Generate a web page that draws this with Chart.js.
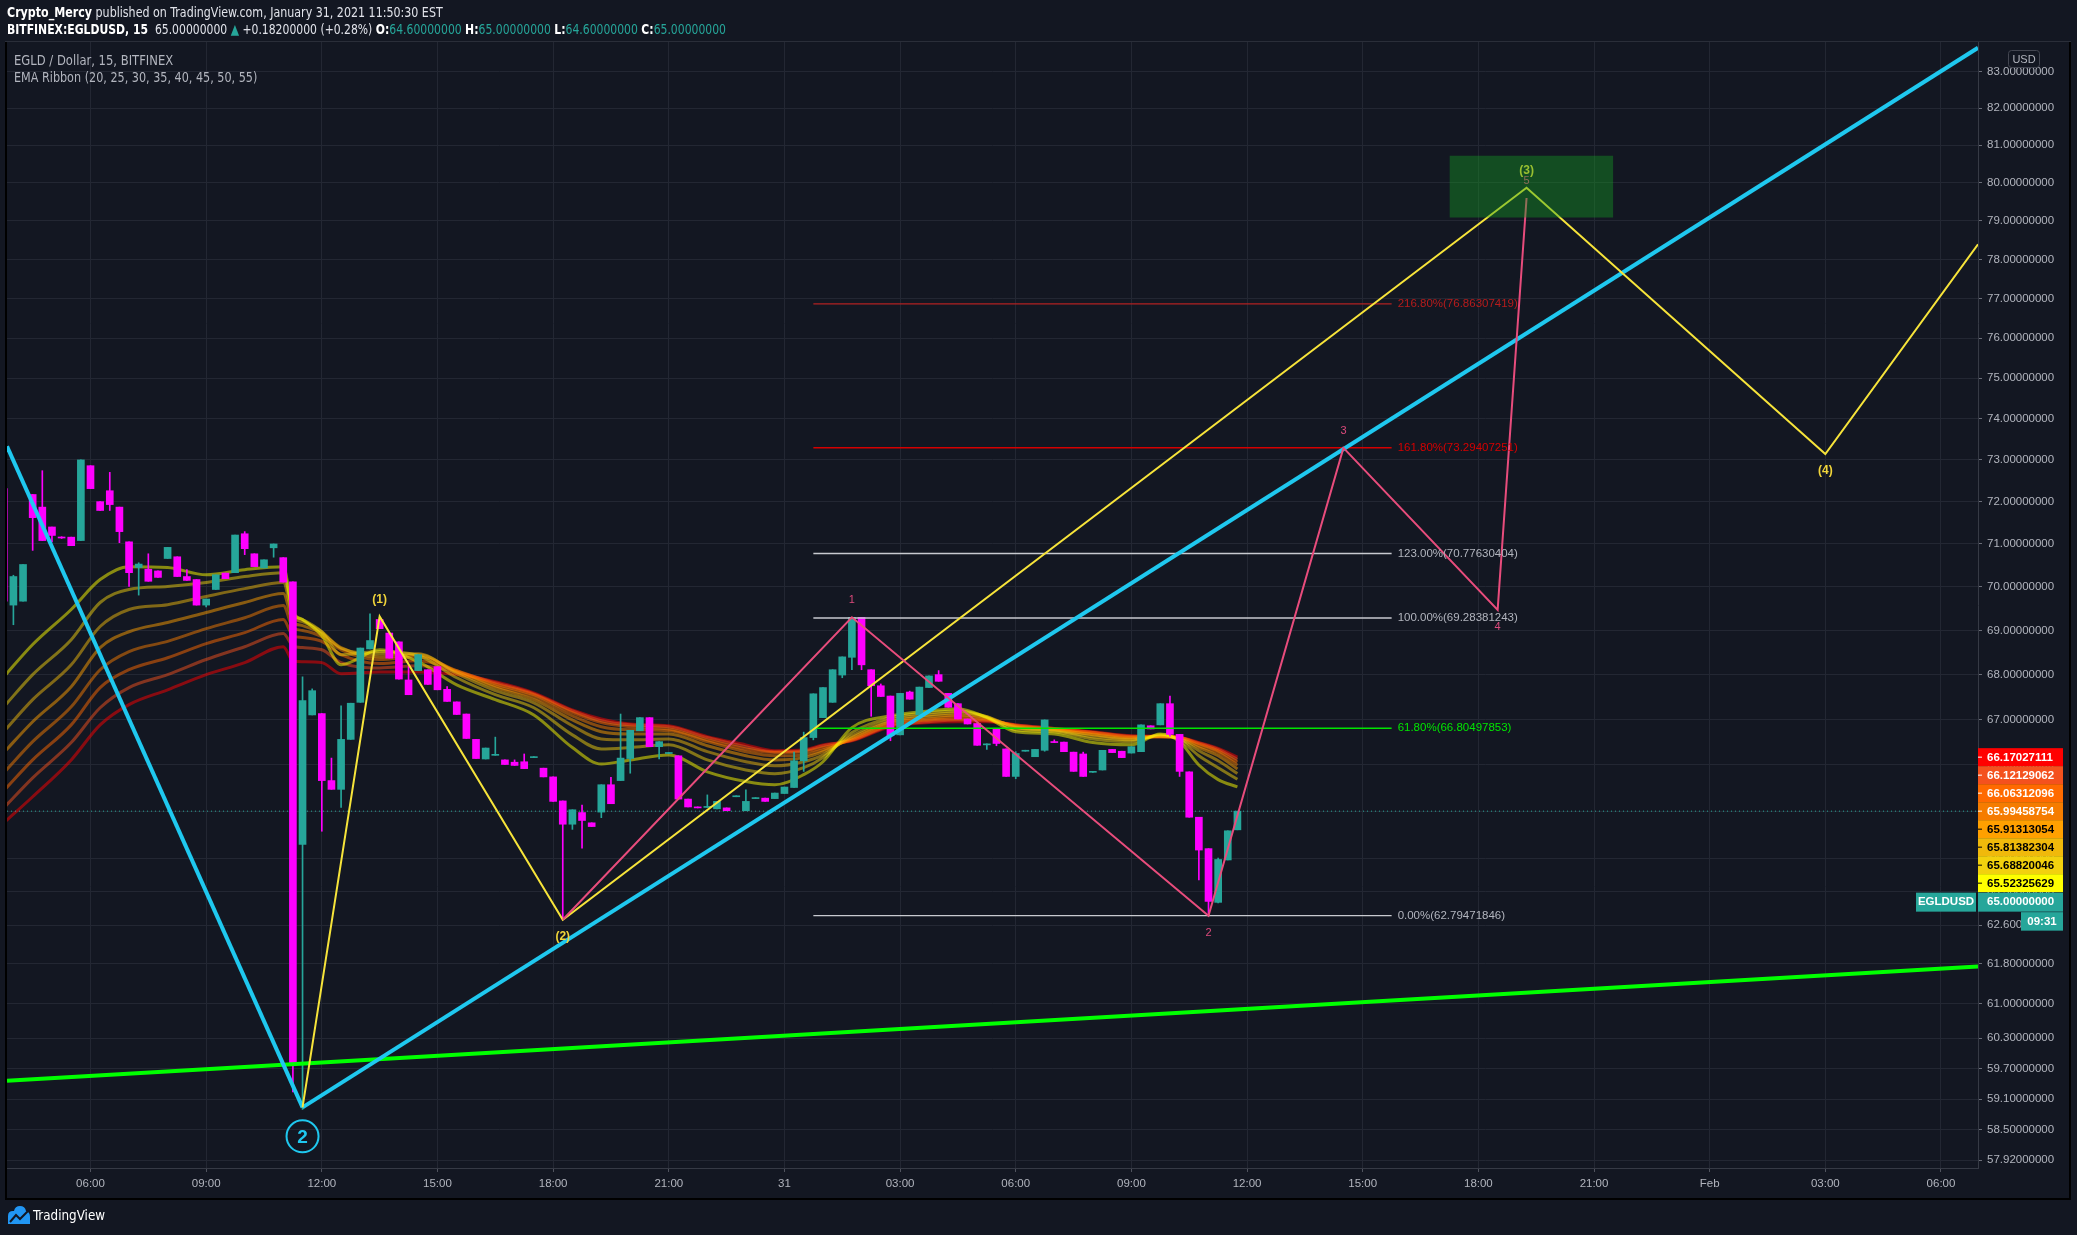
<!DOCTYPE html>
<html>
<head>
<meta charset="utf-8">
<title>EGLD / Dollar, 15, BITFINEX</title>
<script src="https://cdn.jsdelivr.net/npm/chart.js@4.4.1/dist/chart.umd.min.js"></script>
<style>
  html, body { margin:0; padding:0; background:#131722; }
  #wrap { position:relative; width:2077px; height:1235px; overflow:hidden; background:#131722; }
  #c { position:absolute; left:0; top:0; }
  .txt { position:absolute; white-space:nowrap; font-family:"Liberation Sans Narrow","DejaVu Sans Condensed","Liberation Sans",Arial,sans-serif; color:#e1e3ea; transform-origin:0 50%; }
  .teal { color:#26a69a; }
  .b { font-weight:bold; color:#ffffff; }
</style>
</head>
<body>
<div id="wrap">
  <canvas id="c" width="2077" height="1235"></canvas>
  <div class="txt" style="left:7px;top:3px;font-size:14px;line-height:18px;transform:scaleX(0.88);"><span class="b">Crypto_Mercy</span> published on TradingView.com, January 31, 2021 11:50:30 EST</div>
  <div class="txt" style="left:7px;top:20px;font-size:14px;line-height:18px;transform:scaleX(0.86);"><span class="b">BITFINEX:EGLDUSD, 15</span>&nbsp; 65.00000000 <span class="teal">▲</span> +0.18200000 (+0.28%) <span class="b">O:</span><span class="teal">64.60000000</span> <span class="b">H:</span><span class="teal">65.00000000</span> <span class="b">L:</span><span class="teal">64.60000000</span> <span class="b">C:</span><span class="teal">65.00000000</span></div>
  <div class="txt" style="left:14px;top:51px;font-size:14px;line-height:18px;color:#b2b5be;transform:scaleX(0.92);">EGLD / Dollar, 15, BITFINEX</div>
  <div class="txt" style="left:14px;top:68px;font-size:14px;line-height:18px;color:#b2b5be;transform:scaleX(0.89);">EMA Ribbon (20, 25, 30, 35, 40, 45, 50, 55)</div>
  <svg style="position:absolute;left:7px;top:1205px" width="24" height="20" viewBox="0 0 24 20"><path d="M1 19 L1 11 Q1 6 6 6 L7 6 Q8 1 13 1 Q18 1 19 6 Q23 7 23 12 L23 19 Z" fill="#2196f3"/><path d="M3 17 L9 10 L13 14 L21 6" stroke="#131722" stroke-width="2" fill="none"/></svg>
  <div class="txt" style="left:33px;top:1206px;font-size:14px;line-height:18px;color:#ffffff;transform:scaleX(0.95);">TradingView</div>
</div>
<script>
// ---------------- DATA ----------------
// candle open times, hours since 30 Jan 00:00 (15-minute bars)
const candleTimes = [3.75,4,4.25,4.5,4.75,5,5.25,5.5,5.75,6,6.25,6.5,6.75,7,7.25,7.5,7.75,8,8.25,8.5,8.75,9,9.25,9.5,9.75,10,10.25,10.5,10.75,11,11.25,11.5,11.75,12,12.25,12.5,12.75,13,13.25,13.5,13.75,14,14.25,14.5,14.75,15,15.25,15.5,15.75,16,16.25,16.5,16.75,17,17.25,17.5,17.75,18,18.25,18.5,18.75,19,19.25,19.5,19.75,20,20.25,20.5,20.75,21,21.25,21.5,21.75,22,22.25,22.5,22.75,23,23.25,23.5,23.75,24,24.25,24.5,24.75,25,25.25,25.5,25.75,26,26.25,26.5,26.75,27,27.25,27.5,27.75,28,28.25,28.5,28.75,29,29.25,29.5,29.75,30,30.25,30.5,30.75,31,31.25,31.5,31.75,32,32.25,32.5,32.75,33,33.25,33.5,33.75,34,34.25,34.5,34.75,35,35.25,35.5,35.75];
const openP = [72.31,69.58,69.67,72.17,71.87,71.40,71.16,71.16,71.08,72.86,
72.00,72.26,71.87,71.05,70.45,70.41,70.37,70.66,70.70,70.24,
70.17,69.58,69.94,70.32,70.33,71.24,70.77,70.44,70.91,70.68,
70.12,64.29,67.10,67.13,65.66,65.47,66.56,67.38,68.58,69.25,
68.94,68.74,67.88,68.09,68.11,68.18,67.67,67.39,67.12,66.56,
66.13,66.21,66.11,66.06,66.07,66.16,65.93,65.74,65.22,64.72,
64.97,64.75,64.98,65.57,65.66,66.14,66.75,67.04,66.40,66.25,
66.20,65.26,65.09,65.08,65.05,65.07,65.31,65.01,65.27,65.28,
65.27,65.38,65.51,66.09,66.60,67.04,67.38,67.99,68.39,69.30,
68.11,67.75,67.52,66.66,67.61,67.10,67.71,68.00,67.58,67.35,
67.01,66.91,66.44,66.79,66.35,65.75,66.30,66.18,66.32,66.51,
66.50,66.28,66.24,65.84,65.89,66.34,66.30,66.26,66.29,66.86,
66.88,67.35,66.67,65.85,64.87,64.20,63.07,63.96,64.60];
const highP = [72.31,70.27,70.52,72.17,72.74,71.40,71.17,71.16,73.00,72.86,
72.00,72.70,71.87,71.05,70.56,70.77,70.37,70.92,70.70,70.40,
70.17,69.72,70.28,70.32,71.21,71.29,70.77,70.63,71.00,70.68,
70.12,67.95,67.68,67.13,66.15,67.30,67.36,68.60,69.38,69.30,
68.94,68.74,68.18,68.45,68.11,68.18,67.73,67.39,67.12,66.56,
66.37,66.61,66.11,66.11,66.24,66.18,65.93,65.74,65.22,65.03,
65.13,64.75,65.57,65.73,67.12,66.76,67.04,67.04,66.51,66.27,
66.20,65.26,65.09,65.35,65.21,65.07,65.33,65.46,65.29,65.28,
65.39,65.52,66.28,66.72,67.57,67.71,68.11,68.40,69.30,69.30,
68.11,67.79,67.52,67.58,67.63,67.72,67.97,68.09,67.58,67.35,
67.01,66.91,66.46,66.79,66.35,66.29,66.32,66.34,66.99,66.55,
66.50,66.28,66.28,65.86,66.32,66.34,66.30,66.40,66.88,66.86,
67.35,67.52,66.67,65.85,64.87,64.20,64.00,64.58,65.00];
const lowP = [69.67,69.13,69.67,70.85,71.08,71.05,71.13,70.96,71.08,72.31,
71.79,71.79,71.03,70.01,69.81,70.13,70.22,70.66,70.24,70.15,
69.58,69.54,69.94,70.19,70.33,70.75,70.47,70.44,70.69,70.11,
59.24,58.90,67.10,64.57,65.47,65.08,66.56,67.38,68.58,69.04,
68.37,67.90,67.55,68.09,67.78,67.66,67.40,67.11,66.58,66.14,
66.13,66.21,66.01,65.99,65.92,66.16,65.74,65.21,62.71,64.61,
64.21,64.67,64.86,65.16,65.66,65.82,66.75,66.40,66.13,66.25,
65.26,65.09,65.07,65.08,65.05,65.01,65.31,65.01,65.27,65.21,
65.27,65.38,65.51,65.86,66.55,67.04,67.38,67.93,68.11,68.11,
67.07,67.51,66.53,66.66,67.45,67.10,67.71,67.85,67.27,67.01,
66.90,66.43,66.34,66.42,65.75,65.70,66.30,66.18,66.30,66.49,
66.29,65.86,65.75,65.84,65.89,66.27,66.16,66.26,66.29,66.79,
66.88,66.63,65.75,64.87,63.54,62.79,63.06,63.96,64.60];
const closeP = [69.67,70.24,70.52,71.62,71.08,71.20,71.14,70.96,73.00,72.31,
71.79,71.93,71.29,70.33,70.53,70.13,70.22,70.92,70.24,70.15,
69.58,69.72,70.28,70.19,71.21,70.89,70.47,70.63,71.00,70.11,
59.79,67.42,67.64,65.66,65.47,66.56,67.36,68.60,68.77,69.04,
68.37,67.90,67.55,68.45,67.78,67.66,67.40,67.11,66.58,66.14,
66.37,66.23,66.01,65.99,65.92,66.18,65.74,65.21,64.72,65.03,
64.80,64.67,65.57,65.16,66.15,66.76,67.04,66.40,66.51,66.27,
65.26,65.09,65.07,65.10,65.21,65.01,65.33,65.21,65.29,65.21,
65.39,65.52,66.09,66.60,67.57,67.71,68.11,68.40,69.30,68.22,
67.75,67.51,66.64,67.58,67.45,67.72,67.97,67.85,67.27,67.01,
66.90,66.43,66.46,66.47,65.75,66.25,66.32,66.34,66.99,66.49,
66.29,65.86,65.75,65.86,66.32,66.27,66.16,66.40,66.88,66.79,
67.35,66.67,65.86,64.87,64.17,63.09,63.97,64.58,65.00];

// EMA ribbon (values at these times)
const ribbonTimes = [3.75,4.5,5.5,6.25,7,8,9,10,11,11.25,11.5,12,12.5,13.5,14.5,15.5,16.5,17.5,18.5,19.25,20,21,22,23,23.75,24.5,25,25.75,26.75,27.75,28.5,29.25,30,31,32,33,33.75,34.25,34.75,35.25,35.75];
const ema20 = [67.95,68.68,69.48,70.17,70.47,70.45,70.28,70.40,70.47,69.43,69.25,68.88,68.22,68.56,68.29,67.77,67.44,67.10,66.38,66.02,66.11,66.22,65.85,65.64,65.57,65.79,66.07,66.82,67.08,67.19,67.24,67.04,66.73,66.68,66.49,66.44,66.68,66.51,66.00,65.68,65.52325629];
const ema25 = [67.28,68.00,68.79,69.64,69.94,70.01,70.10,70.24,70.33,69.39,69.25,68.97,68.45,68.52,68.43,67.93,67.55,67.26,66.66,66.35,66.38,66.44,66.11,65.89,65.81,65.94,66.16,66.71,67.04,67.15,67.19,67.06,66.77,66.73,66.57,66.51,66.66,66.55,66.20,65.94,65.68820046];
const ema30 = [66.73,67.44,68.22,69.09,69.48,69.59,69.78,69.96,70.10,69.32,69.20,68.97,68.59,68.47,68.47,68.02,67.64,67.37,66.86,66.57,66.55,66.57,66.29,66.07,65.98,66.07,66.22,66.64,66.99,67.10,67.15,67.06,66.82,66.75,66.62,66.55,66.64,66.57,66.31,66.09,65.81382304];
const ema35 = [66.27,66.95,67.73,68.61,68.97,69.18,69.41,69.64,69.85,69.20,69.11,68.93,68.61,68.40,68.45,68.06,67.71,67.44,66.99,66.73,66.68,66.68,66.42,66.20,66.11,66.16,66.29,66.60,66.95,67.06,67.10,67.04,66.84,66.77,66.66,66.57,66.63,66.58,66.38,66.20,65.91313054];
const ema40 = [65.83,66.51,67.28,68.11,68.52,68.75,69.04,69.29,69.57,69.06,69.00,68.86,68.56,68.34,68.40,68.09,67.75,67.50,67.08,66.84,66.77,66.75,66.51,66.29,66.20,66.22,66.33,66.57,66.93,67.01,67.06,67.01,66.86,66.78,66.68,66.60,66.62,66.60,66.42,66.27,65.99458754];
const ema45 = [65.44,66.11,66.88,67.71,68.11,68.38,68.70,68.95,69.25,68.88,68.84,68.75,68.45,68.25,68.31,68.09,67.79,67.55,67.15,66.93,66.84,66.79,66.55,66.35,66.27,66.29,66.38,66.55,66.88,66.99,67.01,66.99,66.86,66.79,66.71,66.62,66.62,66.60,66.46,66.31,66.06312096];
const ema50 = [65.07,65.72,66.49,67.26,67.71,68.00,68.34,68.63,68.93,68.65,68.61,68.56,68.27,68.15,68.20,68.06,67.82,67.57,67.19,66.97,66.88,66.84,66.60,66.40,66.29,66.31,66.42,66.54,66.86,66.95,66.99,66.97,66.88,66.80,66.72,66.63,66.62,66.60,66.48,66.34,66.12129062];
const ema55 = [64.75,65.31,66.11,66.88,67.33,67.66,68.00,68.27,68.63,68.31,68.29,68.27,68.02,68.06,68.06,68.00,67.84,67.59,67.21,67.01,66.90,66.86,66.62,66.44,66.31,66.33,66.44,66.53,66.84,66.93,66.95,66.95,66.88,66.80,66.73,66.64,66.63,66.61,66.49,66.36,66.17027111];

// drawings
const cyanDownT = [3.834, 11.5];
const cyanDownP = [73.33, 58.94];
const cyanUpT = [11.5, 54.96];
const cyanUpP = [58.94, 83.65];
const greenT = [3.834, 54.96];
const greenP = [59.46, 61.75];
const yellowWaveT = [11.5, 13.5, 18.25, 43.25, 51.0, 54.96];
const yellowWaveP = [58.94, 69.32, 62.71, 79.87, 73.14, 78.39];
const yellowWaveLabels = ['', '(1)', '(2)', '(3)', '(4)', ''];
const pinkWaveT = [18.25, 25.75, 35.0, 38.5, 42.5, 43.25];
const pinkWaveP = [62.71, 69.30, 62.79, 73.29, 69.47, 79.6];
const pinkWaveLabels = ['', '1', '2', '3', '4', '5'];
const fibT = [24.75, 39.75];
const fibPct = [216.8, 161.8, 123.0, 100.0, 61.8, 0.0];
const fibPrice = [76.86307419, 73.29407251, 70.77630404, 69.28381243, 66.80497853, 62.79471846];
const targetBoxT = [41.25, 45.5];
const targetBoxP = [79.09, 80.72];
const cornerLabel = '2';

// axes
const xTickHours = [6,9,12,15,18,21,24,27,30,33,36,39,42,45,48,51,54];
const xTickLabels = ['06:00','09:00','12:00','15:00','18:00','21:00','31','03:00','06:00','09:00','12:00','15:00','18:00','21:00','Feb','03:00','06:00'];
const yTickValues = [83,82,81,80,79,78,77,76,75,74,73,72,71,70,69,68,67,66,65,64,63.3,62.6,61.8,61,60.3,59.7,59.1,58.5,57.92];
const xRange = [3.834, 54.96];
const yRange = [57.77, 83.81];
const symbolName = 'EGLDUSD';
const countdownText = '09:31';
const currencyText = 'USD';

// ---------------- STYLE ----------------
const FONT = "'Liberation Sans', Arial, sans-serif";
const BG = '#131722';
const UP = '#26a69a', DOWN = '#ff00ff';
const emaSeries = [ema20, ema25, ema30, ema35, ema40, ema45, ema50, ema55];
const emaColors = ['#ffff00','#f2d10e','#f0b90b','#ffa000','#f57c00','#ff6a00','#f4511e','#ff0000'];
const emaTextColors = ['#000','#000','#000','#000','#fff','#fff','#fff','#fff'];
const fibLineColors = ['#b22222','#d50000','#c8cad0','#c8cad0','#00e600','#c8cad0'];
const fibTextColors = ['#b71c1c','#d50000','#b2b5be','#b2b5be','#00e600','#b2b5be'];

function rgba(hex, a){ const n=parseInt(hex.slice(1),16); return `rgba(${(n>>16)&255},${(n>>8)&255},${n&255},${a})`; }
const pts = (ts, ps) => ts.map((t,i)=>({x:t, y:ps[i]}));
const candleColors = closeP.map((c,i)=> c >= openP[i] ? UP : DOWN);
const lastPrice = closeP[closeP.length-1];

Chart.defaults.font.family = FONT;

const datasets = [];
emaSeries.forEach((arr,k)=>{
  datasets.push({type:'line', data:pts(ribbonTimes, arr), borderColor:rgba(emaColors[k],0.5), borderWidth:3,
    pointRadius:0, cubicInterpolationMode:'monotone', fill:false, order:100});
});
datasets.push({type:'bar', data:candleTimes.map((t,i)=>({x:t, y:[lowP[i], highP[i]]})), backgroundColor:candleColors,
  barThickness:1, grouped:false, minBarLength:1, order:90});
datasets.push({type:'line', data:[{x:xRange[0],y:lastPrice},{x:xRange[1],y:lastPrice}], borderColor:UP, borderWidth:1,
  borderDash:[1,3], pointRadius:0, fill:false, order:85});
datasets.push({type:'bar', data:candleTimes.map((t,i)=>({x:t, y:[openP[i], closeP[i]]})), backgroundColor:candleColors,
  barThickness:7, grouped:false, minBarLength:1, order:80});
fibPrice.forEach((p,k)=>{
  datasets.push({type:'line', data:[{x:fibT[0],y:p},{x:fibT[1],y:p}], borderColor:fibLineColors[k], borderWidth:1.3,
    pointRadius:0, fill:false, order:70});
});
datasets.push({type:'line', data:pts(greenT, greenP), borderColor:'#00ff00', borderWidth:4, pointRadius:0, fill:false, order:30});
datasets.push({type:'line', data:pts(cyanDownT, cyanDownP), borderColor:'#1fc8ef', borderWidth:4, pointRadius:0, fill:false, order:25});
datasets.push({type:'line', data:pts(cyanUpT, cyanUpP), borderColor:'#1fc8ef', borderWidth:4, pointRadius:0, fill:false, order:25});
datasets.push({type:'line', data:pts(yellowWaveT, yellowWaveP), borderColor:'#f7e43a', borderWidth:2, pointRadius:0, fill:false, order:22});
const PINK_INDEX = datasets.length;
datasets.push({type:'line', data:pts(pinkWaveT, pinkWaveP), borderColor:'#e84c7c', borderWidth:2, pointRadius:0, fill:false, order:20});
datasets.push({type:'line', data:[{x:targetBoxT[0],y:targetBoxP[1]},{x:targetBoxT[1],y:targetBoxP[1]}], borderWidth:0, pointRadius:0, fill:false, order:5});
datasets.push({type:'line', data:[{x:targetBoxT[0],y:targetBoxP[0]},{x:targetBoxT[1],y:targetBoxP[0]}], borderWidth:0, pointRadius:0,
  fill:'-1', backgroundColor:'rgba(20,160,35,0.40)', order:4});

function label(ctx, text, x, y, font, color){
  ctx.font = font; ctx.fillStyle = color; ctx.textAlign = 'center'; ctx.textBaseline = 'middle';
  ctx.fillText(text, x, y);
}
function waveLabels(ctx, xs, ys, ts, ps, labels, font, color, off){
  labels.forEach((s,i)=>{
    if(!s) return;
    const prev = i>0 ? ps[i-1] : -Infinity, next = i<ps.length-1 ? ps[i+1] : -Infinity;
    const peak = ps[i] > prev && ps[i] > next || (i===ps.length-1 && ps[i] > prev);
    const px = xs.getPixelForValue(ts[i]), py = ys.getPixelForValue(ps[i]);
    label(ctx, s, px, py + (peak ? -off : off), font, color);
  });
}

const overlay = {
  id:'overlay',
  beforeDraw(chart){ const c=chart.ctx; c.save(); c.fillStyle=BG; c.fillRect(0,0,chart.width,chart.height); c.restore(); },
  afterDatasetDraw(chart, args){
    if(args.index !== PINK_INDEX) return;
    const {ctx, scales:{x, y}} = chart;
    ctx.save();
    // fib labels
    ctx.font = "11.5px " + FONT; ctx.textAlign='left'; ctx.textBaseline='middle';
    fibPct.forEach((pct,k)=>{
      ctx.fillStyle = fibTextColors[k];
      ctx.fillText(pct.toFixed(2)+'%('+fibPrice[k].toFixed(8)+')', x.getPixelForValue(fibT[1])+6, y.getPixelForValue(fibPrice[k]));
    });
    waveLabels(ctx, x, y, yellowWaveT, yellowWaveP, yellowWaveLabels, "bold 12px "+FONT, '#f0d43a', 17);
    waveLabels(ctx, x, y, pinkWaveT, pinkWaveP, pinkWaveLabels, "11px "+FONT, '#dc4a7c', 17);
    // circled wave label under the low
    const cx = x.getPixelForValue(cyanUpT[0]), cy = y.getPixelForValue(cyanUpP[0]) + 29;
    ctx.beginPath(); ctx.arc(cx, cy, 16, 0, Math.PI*2); ctx.strokeStyle='#1fc8ef'; ctx.lineWidth=2; ctx.stroke();
    label(ctx, cornerLabel, cx, cy+1, "bold 19px "+FONT, '#1fc8ef');
    ctx.restore();
  },
  afterDraw(chart){
    const {ctx, scales:{y}} = chart;
    ctx.save();
    const last = emaSeries.map(a=>a[a.length-1]);
    const order = last.map((v,k)=>k).sort((a,b)=>last[b]-last[a]);
    const y0 = y.getPixelForValue(last[order[0]]);
    const step = 18, h = 18, x0 = y.left, w = 85;
    ctx.font = "bold 11.5px " + FONT; ctx.textBaseline='middle'; ctx.textAlign='left';
    order.forEach((k,j)=>{
      const cy = y0 + j*step;
      ctx.fillStyle = emaColors[k]; ctx.fillRect(x0, cy-h/2, w, h);
      ctx.fillStyle = emaTextColors[k]; ctx.fillRect(x0, cy-0.5, 4, 1);
      ctx.fillText(last[k].toFixed(8), x0+9, cy+0.5);
    });
    // last price
    const py = y0 + order.length*step;
    ctx.fillStyle = UP; ctx.fillRect(x0, py-h/2+0.5, w, h+1);
    ctx.fillStyle = '#fff'; ctx.fillText(lastPrice.toFixed(8), x0+9, py+1);
    ctx.fillStyle = UP; ctx.fillRect(x0-62, py-h/2+0.5, 60, h+1);
    ctx.fillStyle = '#fff'; ctx.textAlign='center'; ctx.fillText(symbolName, x0-32, py+1);
    ctx.fillStyle = UP; ctx.fillRect(x0+43, py+h/2+2, 42, 18.5);
    ctx.fillStyle = '#fff'; ctx.fillText(countdownText, x0+64, py+h/2+11.5);
    // currency box
    ctx.beginPath(); ctx.roundRect(2008.5, 50.5, 31, 17, 3);
    ctx.fillStyle = BG; ctx.fill(); ctx.strokeStyle='#434651'; ctx.lineWidth=1; ctx.stroke();
    ctx.font = "11px " + FONT; ctx.fillStyle='#b2b5be'; ctx.fillText(currencyText, 2024, 59.5);
    // frame
    ctx.fillStyle = '#000';
    ctx.fillRect(5, 42, 2, 1158);
    ctx.fillRect(2069, 42, 2, 1158);
    ctx.fillRect(5, 1198, 2066, 2);
    ctx.fillStyle = '#2a2e39';
    ctx.fillRect(5, 41, 2066, 1);
    ctx.restore();
  }
};

new Chart(document.getElementById('c'), {
  type:'bar',
  data:{datasets},
  options:{
    responsive:false, animation:false, events:[],
    layout:{padding:{top:42, left:7, right:7, bottom:36}},
    plugins:{legend:{display:false}, tooltip:{enabled:false}},
    scales:{
      x:{type:'linear', min:xRange[0], max:xRange[1], offset:false,
        afterBuildTicks:s=>{ s.ticks = xTickHours.map(v=>({value:v})); },
        afterFit:s=>{ s.height = 31; },
        ticks:{autoSkip:false, maxRotation:0, color:'#b2b5be', font:{size:11.5}, padding:5, callback:(v,i)=>xTickLabels[i]},
        grid:{color:'#232733', offset:false, tickColor:'#50535e', tickLength:4, drawTicks:true},
        border:{display:true, color:'#363a45'}},
      y:{type:'logarithmic', position:'right', min:yRange[0], max:yRange[1],
        afterBuildTicks:s=>{ s.ticks = yTickValues.map(v=>({value:v})); },
        afterFit:s=>{ s.width = 92; },
        ticks:{autoSkip:false, color:'#b2b5be', font:{size:11.5}, padding:5, callback:v=>Number(v).toFixed(8)},
        grid:{color:'#232733', tickColor:'#6a6d78', tickLength:4, drawTicks:true},
        border:{display:true, color:'#363a45'}}
    }
  },
  plugins:[overlay]
});
</script>
</body>
</html>
